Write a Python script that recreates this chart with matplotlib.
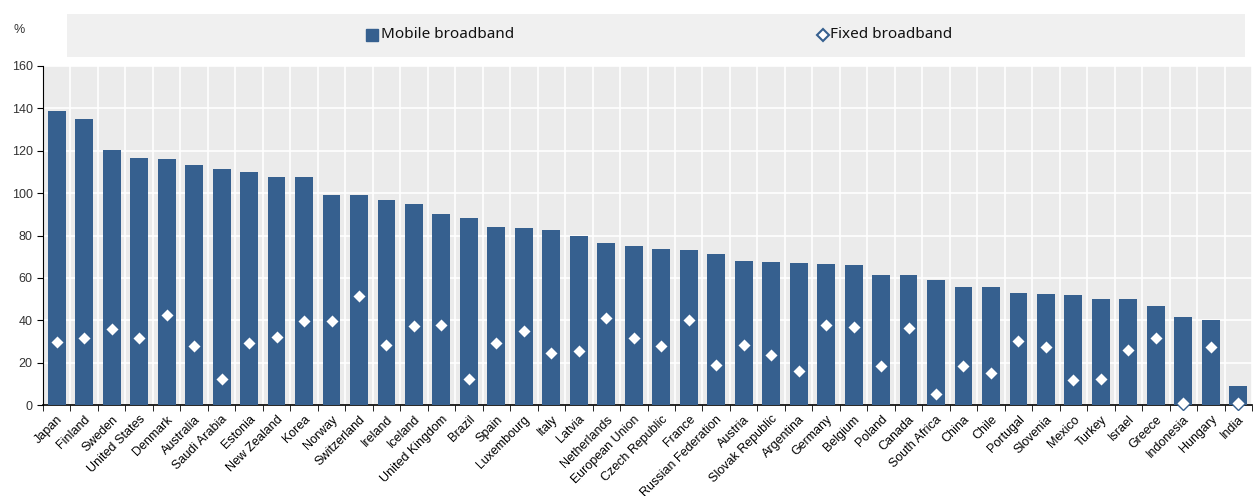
import numpy as np
import matplotlib
matplotlib.use("Agg")
import matplotlib.pyplot as plt
from matplotlib.lines import Line2D
from matplotlib.patches import Rectangle

countries = ["Japan", "Finland", "Sweden", "United States", "Denmark", "Australia",
             "Saudi Arabia", "Estonia", "New Zealand", "Korea", "Norway", "Switzerland",
             "Ireland", "Iceland", "United Kingdom", "Brazil", "Spain", "Luxembourg",
             "Italy", "Latvia", "Netherlands", "European Union", "Czech Republic",
             "France", "Russian Federation", "Austria", "Slovak Republic", "Argentina",
             "Germany", "Belgium", "Poland", "Canada", "South Africa", "China", "Chile",
             "Portugal", "Slovenia", "Mexico", "Turkey", "Israel", "Greece", "Indonesia",
             "Hungary", "India"]

mobile = [138.8, 135.0, 120.3, 116.6, 116.1, 113.4, 111.4, 110.0, 107.7, 107.6, 99.1, 99.1,
          96.7, 94.9, 90.1, 88.3, 84.0, 83.5, 82.6, 79.8, 76.3, 75.0, 73.5, 73.1, 71.1,
          67.8, 67.7, 67.0, 66.5, 66.1, 61.2, 61.2, 59.1, 55.8, 55.5, 53.0, 52.2, 51.9,
          50.2, 49.9, 46.6, 41.7, 40.0, 9.1]

fixed = [29.6, 31.5, 35.7, 31.4, 42.4, 28.0, 12.1, 29.2, 31.9, 39.7, 39.6, 51.6,
         28.1, 37.5, 37.7, 12.1, 29.1, 35.1, 24.5, 25.5, 41.2, 31.5, 27.8, 40.3, 18.7,
         28.5, 23.4, 16.0, 37.6, 36.7, 18.4, 36.2, 5.2, 18.4, 15.0, 30.2, 27.5, 11.9,
         12.3, 25.8, 31.6, 0.8, 27.5, 1.1]

blue = "#36608f"
W, H = 1253, 496

fig = plt.figure(figsize=(W / 100, H / 100), dpi=100)
ax = fig.add_axes([43 / W, 1 - 405 / H, (1252 - 43) / W, (405 - 66) / H])
ax.set_facecolor("#ebebeb")

x = np.arange(len(countries))
ax.bar(x, mobile, width=0.65, color=blue, zorder=3)
ax.plot(x, fixed, linestyle="none", marker="D", markersize=7.5,
        markerfacecolor="white", markeredgecolor=blue, markeredgewidth=1.0, zorder=4,
        clip_on=False)

ax.set_xlim(-0.5, len(countries) - 0.5)
ax.set_ylim(0, 160)
ax.set_yticks(np.arange(0, 161, 20))
ax.set_xticks(x)
ax.set_xticklabels(countries, rotation=45, ha="right", rotation_mode="anchor",
                   fontsize=9, family="Liberation Sans")
ax.set_xticks(np.arange(-0.5, len(countries), 1), minor=True)
ax.tick_params(axis="x", which="major", length=0, pad=6)
ax.tick_params(axis="x", which="minor", length=4, direction="out", color="black")
ax.tick_params(axis="y", length=4, direction="out", labelsize=9, labelcolor="#333333")
for lab in ax.get_yticklabels():
    lab.set_family("Liberation Sans")

ax.grid(axis="y", color="white", linewidth=1.2, zorder=1)
ax.grid(axis="x", which="minor", color="white", linewidth=1.2, zorder=1)
ax.set_axisbelow(True)
for s in ["top", "right"]:
    ax.spines[s].set_visible(False)
ax.spines["left"].set_color("black")
ax.spines["bottom"].set_color("black")
ax.spines["bottom"].set_linewidth(1.2)

fig.text(13 / W, 1 - 30 / H, "%", fontsize=9, color="#333333",
         family="Liberation Sans", va="center")

# legend box
fig.add_artist(Rectangle((67 / W, 1 - 57 / H), (1245 - 67) / W, 43 / H,
                         transform=fig.transFigure, facecolor="#f0f0f0",
                         edgecolor="none"))
fig.add_artist(Line2D([371.5 / W], [1 - 35 / H], transform=fig.transFigure,
                      marker="s", markersize=8, color=blue, linestyle="none"))
fig.text(381 / W, 1 - 35 / H, "Mobile broadband", fontsize=11, family="Noto Sans",
         va="center", color="#111111")
fig.add_artist(Line2D([823.5 / W], [1 - 35 / H], transform=fig.transFigure,
                      marker="D", markersize=6.5, markerfacecolor="white",
                      markeredgecolor=blue, markeredgewidth=1.5, linestyle="none"))
fig.text(830 / W, 1 - 35 / H, "Fixed broadband", fontsize=11, family="Noto Sans",
         va="center", color="#111111")

fig.savefig("out.png", dpi=100)
